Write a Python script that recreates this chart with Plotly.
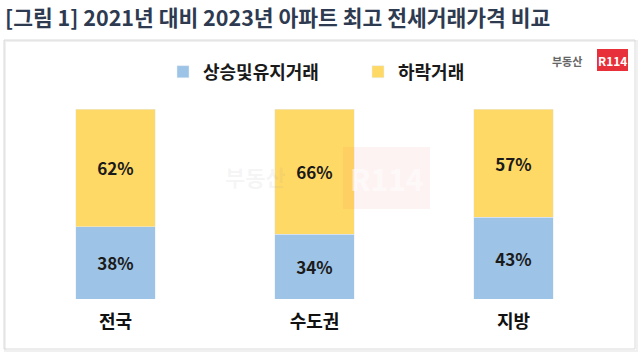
import plotly.graph_objects as go

categories = ["전국", "수도권", "지방"]
up_keep = [38, 34, 43]
down = [62, 66, 57]
series_names = ["상승및유지거래", "하락거래"]
title_text = "[그림 1] 2021년 대비 2023년 아파트 최고 전세거래가격 비교"

FONT = "Noto Sans CJK KR"
BLUE = "#9DC3E6"
YELLOW = "#FFD966"

W, H = 640, 360
L, R, T, B = 16, 27, 109, 61
pw, ph = W - L - R, H - T - B

def px(x):
    return (x - L) / pw

def py(y):
    return (H - B - y) / ph

label_font = dict(family=FONT, size=17, color="#1a1a1a", weight="bold")

fig = go.Figure()
fig.add_trace(go.Bar(
    x=categories, y=up_keep, name=series_names[0], marker_color=BLUE,
    width=0.4, texttemplate="%{y}%", textposition="inside", insidetextanchor="middle",
    textfont=label_font, hoverinfo="skip",
))
fig.add_trace(go.Bar(
    x=categories, y=down, name=series_names[1], marker_color=YELLOW,
    width=0.4, texttemplate="%{y}%", textposition="inside", insidetextanchor="middle",
    textfont=label_font, hoverinfo="skip",
))

shapes = [
    dict(type="rect", xref="paper", yref="paper", x0=px(5), x1=px(637), y0=py(351), y1=py(41),
         line=dict(color="#F0F0F0", width=2), fillcolor="rgba(0,0,0,0)", layer="below"),
    dict(type="rect", xref="paper", yref="paper", x0=px(4), x1=px(635), y0=py(349), y1=py(40),
         line=dict(color="#DADADA", width=1), fillcolor="rgba(0,0,0,0)", layer="below"),
    # logo red box
    dict(type="rect", xref="paper", yref="paper", x0=px(597), x1=px(628), y0=py(71), y1=py(49),
         line=dict(width=0), fillcolor="#E8303A"),
    # watermark box
    dict(type="rect", xref="paper", yref="paper", x0=px(343), x1=px(430), y0=py(209), y1=py(147),
         line=dict(width=0), fillcolor="rgba(232,48,58,0.06)", layer="above"),
]

annotations = [
    dict(text="부동산", xref="paper", yref="paper", x=px(584), y=py(61), xanchor="right",
         yanchor="middle", showarrow=False,
         font=dict(family=FONT, size=11, color="#666666", weight="bold")),
    dict(text="R114", xref="paper", yref="paper", x=px(612.5), y=py(60), xanchor="center",
         yanchor="middle", showarrow=False,
         font=dict(family=FONT, size=12, color="#FFFFFF", weight="bold")),
    dict(text="부동산", xref="paper", yref="paper", x=px(288), y=py(176), xanchor="right",
         yanchor="middle", showarrow=False,
         font=dict(family=FONT, size=22, color="rgba(150,150,150,0.10)", weight="bold")),
    dict(text="R114", xref="paper", yref="paper", x=px(386.5), y=py(178), xanchor="center",
         yanchor="middle", showarrow=False,
         font=dict(family=FONT, size=30, color="rgba(255,255,255,0.55)", weight="bold")),
]

fig.update_layout(
    width=W, height=H,
    margin=dict(l=L, r=R, t=T, b=B, autoexpand=False),
    paper_bgcolor="white", plot_bgcolor="white",
    barmode="stack",
    title=dict(text=title_text, x=5 / W, xanchor="left", xref="container",
               y=1 - 18 / H, yanchor="middle", yref="container",
               font=dict(family=FONT, size=21.5, color="#2E3A50", weight="bold")),
    legend=dict(orientation="h", x=px(163), xanchor="left", y=py(72), yanchor="middle",
                traceorder="normal", itemwidth=30, itemclick=False,
                entrywidth=150, entrywidthmode="pixels",
                font=dict(family=FONT, size=18, color="#1a1a1a", weight="bold")),
    xaxis=dict(showgrid=False, showline=False, zeroline=False, ticks="",
               tickfont=dict(family=FONT, size=18, color="#111111", weight="bold"),
               ticklabelstandoff=10,
               range=[-0.5, 2.5], fixedrange=True),
    yaxis=dict(range=[0, 100], visible=False, showgrid=False, fixedrange=True),
    shapes=shapes, annotations=annotations,
    showlegend=True,
)

fig.write_html("out.html", config={"displayModeBar": False},
               post_script="document.body.style.margin='0';")
